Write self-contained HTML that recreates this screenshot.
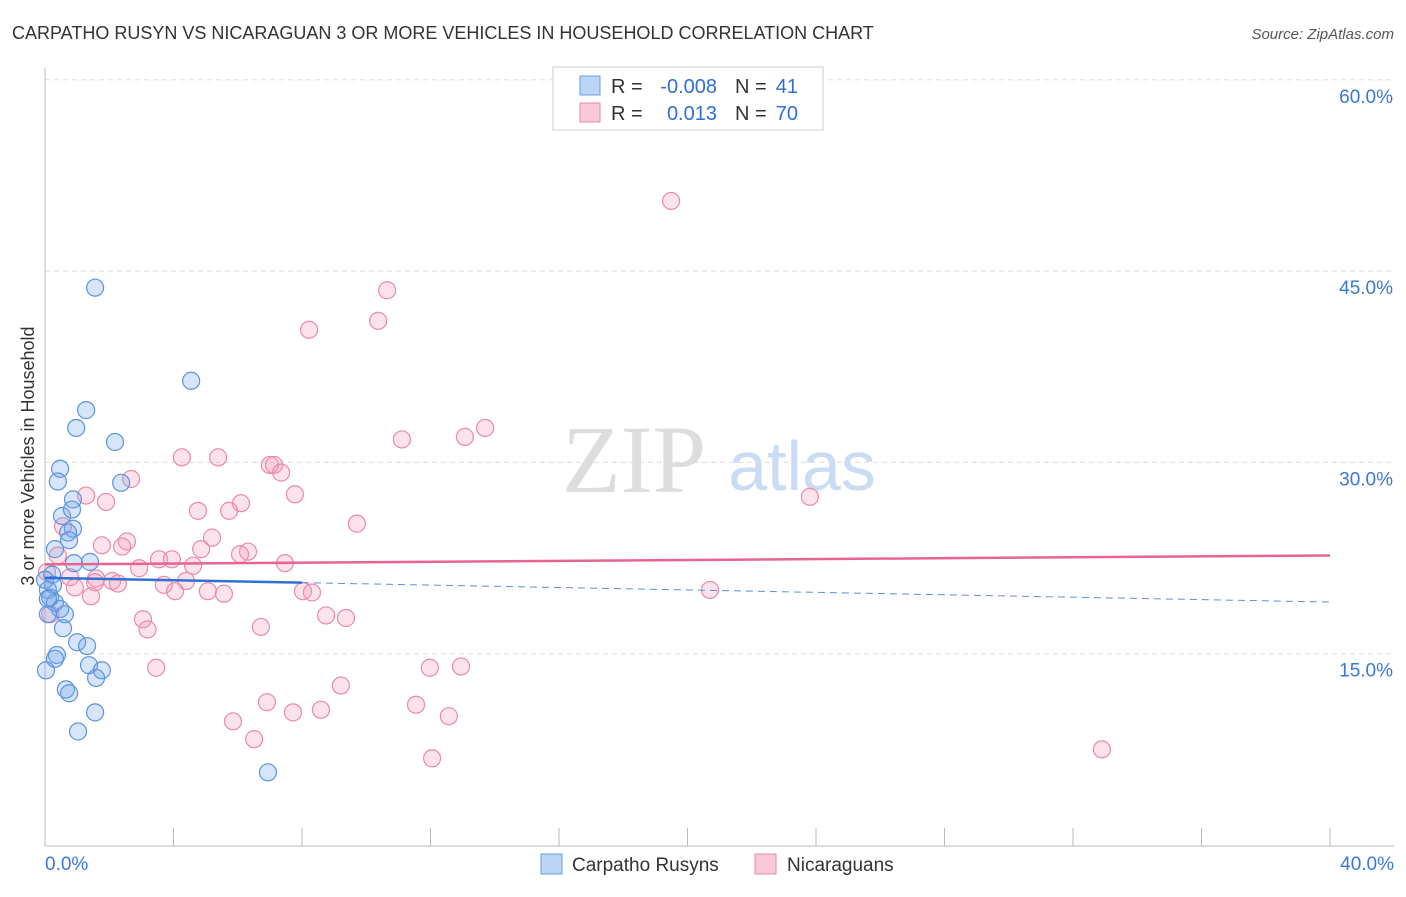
<!DOCTYPE html>
<html><head><meta charset="utf-8"><style>
body{margin:0;background:#fff;font-family:"Liberation Sans",sans-serif;}
text{white-space:pre;}
</style></head><body>
<svg id="c" width="1406" height="892" xmlns="http://www.w3.org/2000/svg">
<text x="12" y="39" font-size="18" fill="#333">CARPATHO RUSYN VS NICARAGUAN 3 OR MORE VEHICLES IN HOUSEHOLD CORRELATION CHART</text>
<text x="1394" y="39" font-size="15" fill="#555" font-style="italic" text-anchor="end">Source: ZipAtlas.com</text>
<text x="634" y="492" font-size="96" fill="#ddd" font-family="Liberation Serif,serif" text-anchor="middle">ZIP</text>
<text x="802" y="490" font-size="70" fill="#c9dcf3" text-anchor="middle">atlas</text>
<text transform="translate(34,456) rotate(-90)" font-size="18" fill="#333" text-anchor="middle">3 or more Vehicles in Household</text>
<g id="grid"></g><g id="pts"></g><g id="lines"></g>
<g>
<rect x="553" y="67" width="270" height="63" fill="#fff" stroke="#ccc"/>
<rect x="580" y="76" width="20" height="19" fill="#bcd5f5" stroke="#6a9de0"/>
<rect x="580" y="103" width="20" height="19" fill="#f9c9d8" stroke="#e88aa8"/>
<text x="611" y="93" font-size="20" fill="#333">R =</text>
<text x="717" y="93" font-size="20" fill="#2f6fd6" text-anchor="end">-0.008</text>
<text x="735" y="93" font-size="20" fill="#333">N =</text>
<text x="798" y="93" font-size="20" fill="#2f6fd6" text-anchor="end">41</text>
<text x="611" y="120" font-size="20" fill="#333">R =</text>
<text x="717" y="120" font-size="20" fill="#2f6fd6" text-anchor="end">0.013</text>
<text x="735" y="120" font-size="20" fill="#333">N =</text>
<text x="798" y="120" font-size="20" fill="#2f6fd6" text-anchor="end">70</text>
</g>
<g>
<rect x="541" y="854" width="21" height="20" fill="#bcd5f5" stroke="#6a9de0"/>
<text x="572" y="871" font-size="19" fill="#333">Carpatho Rusyns</text>
<rect x="755" y="854" width="21" height="20" fill="#f9c9d8" stroke="#e88aa8"/>
<text x="787" y="871" font-size="19" fill="#333">Nicaraguans</text>
</g>
</svg>
<script>
const yTicks=[15,30,45,60];
const xLabels=["0.0%","40.0%"];
const blueX=[1.56,4.55,1.28,0.97,2.18,0.47,0.40,2.37,0.87,0.53,0.84,0.87,0.72,0.75,0.31,1.40,0.90,0.22,0.25,0.09,0.16,0.31,0.47,0.09,0.62,0.56,1.00,1.31,0.37,0.31,1.37,1.77,0.03,1.59,0.65,0.75,1.56,1.03,6.94,0.09,0];
const blueY=[43.7,36.4,34.1,32.7,31.6,29.5,28.5,28.4,27.1,25.8,26.3,24.8,24.5,23.9,23.2,22.2,22.1,21.2,20.4,20.0,19.4,19.0,18.5,18.1,18.1,17.0,15.9,15.6,14.9,14.6,14.1,13.7,13.7,13.1,12.2,11.9,10.4,8.9,5.7,19.3,20.8];
const pinkX=[19.49,10.65,8.22,10.37,11.11,13.07,13.70,4.26,5.39,7.00,7.13,7.35,2.68,1.28,7.78,23.81,1.90,6.10,4.76,5.73,9.71,0.56,5.20,2.55,1.77,2.40,4.86,6.32,6.07,0.40,3.55,3.95,7.47,4.61,2.93,0.06,0.78,1.59,2.09,2.27,4.39,1.56,3.70,0.93,4.05,5.07,5.57,8.03,8.31,20.70,1.43,3.05,8.75,9.37,3.19,6.72,3.46,11.98,12.95,9.21,6.91,7.72,8.59,11.55,12.57,5.85,32.90,6.51,12.05,0.16];
const pinkY=[50.5,43.5,40.4,41.1,31.8,32.0,32.7,30.4,30.4,29.8,29.8,29.2,28.7,27.4,27.5,27.3,26.9,26.8,26.2,26.2,25.2,25.0,24.1,23.8,23.5,23.4,23.2,23.0,22.8,22.7,22.4,22.4,22.1,21.9,21.7,21.4,21.0,20.9,20.7,20.5,20.7,20.6,20.4,20.2,19.9,19.9,19.7,19.9,19.8,20.0,19.5,17.7,18.0,17.8,16.9,17.1,13.9,13.9,14.0,12.5,11.2,10.4,10.6,11.0,10.1,9.7,7.5,8.3,6.8,18.1];
const blueTrend=[20.95,19.05];
const pinkTrend=[22.0,22.7];
const NS="http://www.w3.org/2000/svg";
const X=v=>45+v/40*1285, Y=v=>845-v/15*191.3;
function mk(p,t,a){const e=document.createElementNS(NS,t);for(const k in a)e.setAttribute(k,a[k]);p.appendChild(e);return e;}
const g=document.getElementById('grid');
for(const t of yTicks){
 const l=mk(g,'line',{x1:45,x2:1394,y1:Y(t),y2:Y(t),stroke:'#ddd','stroke-dasharray':'5,4'});
 
 
 const tx=mk(g,'text',{x:1393,y:Y(t)+23,'font-size':19,fill:'#3a78d8','text-anchor':'end'});tx.textContent=t.toFixed(1)+'%';
 
 
}
const ax=mk(g,'line',{x1:45,x2:45,y1:68,y2:846,stroke:'#bbb'});


const bx=mk(g,'line',{x1:45,x2:1394,y1:846,y2:846,stroke:'#bbb'});


for(let i=0;i<=10;i++){const t=mk(g,'line',{x1:X(i*4),x2:X(i*4),y1:828,y2:846,stroke:'#bbb'});
 
 }
[[0,'start',45],[40,'end',1394]].forEach((d,i)=>{const t=mk(g,'text',{x:d[2],y:870,'font-size':19,fill:'#3a78d8','text-anchor':d[1]});t.textContent=xLabels[i];
 
 });
const pg=document.getElementById('pts');
pinkX.forEach((x,i)=>{const c=mk(pg,'circle',{cx:X(x),cy:Y(pinkY[i]),r:8.5,fill:'rgba(244,160,188,0.3)',stroke:'#e98aa8','stroke-width':1.2});
 
 });
blueX.forEach((x,i)=>{const c=mk(pg,'circle',{cx:X(x),cy:Y(blueY[i]),r:8.5,fill:'rgba(120,170,235,0.3)',stroke:'#5d93dd','stroke-width':1.2});
 
 });
const lg=document.getElementById('lines');
const pl=mk(lg,'line',{x1:X(0),x2:X(40),y1:Y(pinkTrend[0]),y2:Y(pinkTrend[1]),stroke:'#e8648e','stroke-width':2.5});


const bAt=x=>blueTrend[0]+(blueTrend[1]-blueTrend[0])*x/40;
const bl=mk(lg,'line',{x1:X(0),x2:X(8),y1:Y(bAt(0)),y2:Y(bAt(8)),stroke:'#2f6fd6','stroke-width':2.5});


const bd=mk(lg,'line',{x1:X(8),x2:X(40),y1:Y(bAt(8)),y2:Y(bAt(40)),stroke:'#5d8fd8','stroke-width':1,'stroke-dasharray':'7,5'});


</script>
</body></html>
